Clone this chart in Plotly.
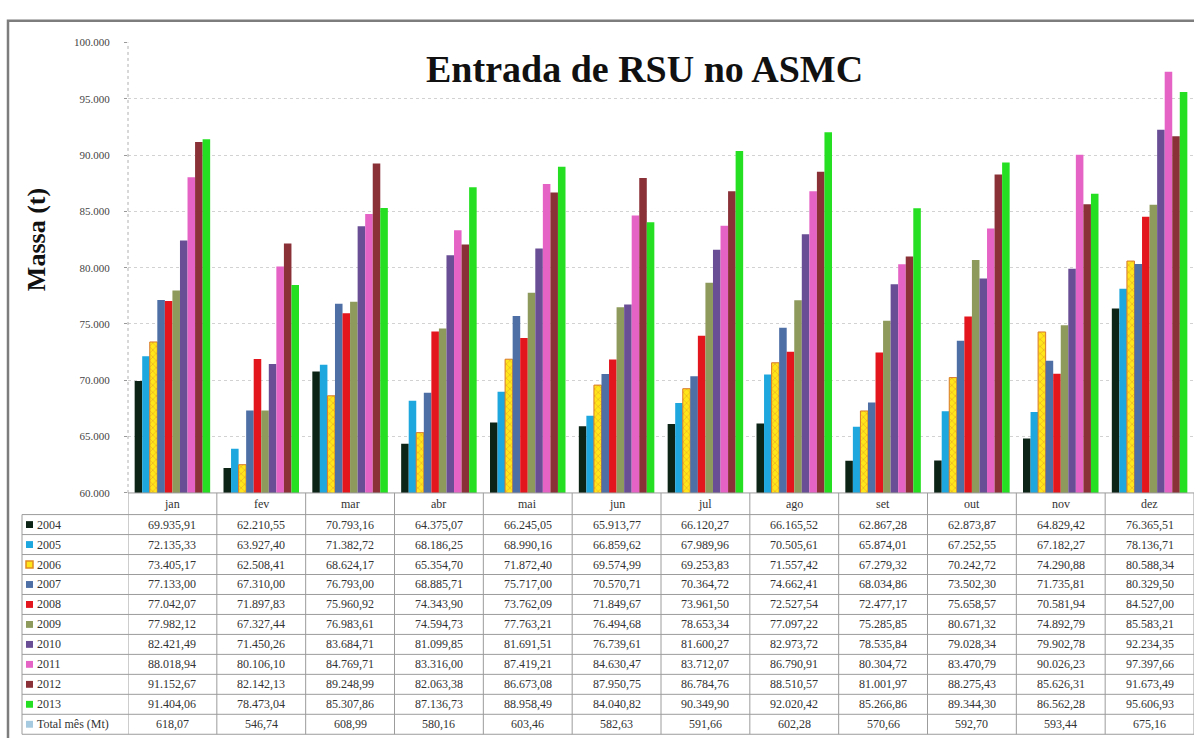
import plotly.graph_objects as go

# Monthly municipal solid waste input (t), 2004-2013
meses = ["jan", "fev", "mar", "abr", "mai", "jun", "jul", "ago", "set", "out", "nov", "dez"]
anos = ["2004", "2005", "2006", "2007", "2008", "2009", "2010", "2011", "2012", "2013"]

v2004 = [69935.91, 62210.55, 70793.16, 64375.07, 66245.05, 65913.77, 66120.27, 66165.52, 62867.28, 62873.87, 64829.42, 76365.51]
v2005 = [72135.33, 63927.40, 71382.72, 68186.25, 68990.16, 66859.62, 67989.96, 70505.61, 65874.01, 67252.55, 67182.27, 78136.71]
v2006 = [73405.17, 62508.41, 68624.17, 65354.70, 71872.40, 69574.99, 69253.83, 71557.42, 67279.32, 70242.72, 74290.88, 80588.34]
v2007 = [77133.00, 67310.00, 76793.00, 68885.71, 75717.00, 70570.71, 70364.72, 74662.41, 68034.86, 73502.30, 71735.81, 80329.50]
v2008 = [77042.07, 71897.83, 75960.92, 74343.90, 73762.09, 71849.67, 73961.50, 72527.54, 72477.17, 75658.57, 70581.94, 84527.00]
v2009 = [77982.12, 67327.44, 76983.61, 74594.73, 77763.21, 76494.68, 78653.34, 77097.22, 75285.85, 80671.32, 74892.79, 85583.21]
v2010 = [82421.49, 71450.26, 83684.71, 81099.85, 81691.51, 76739.61, 81600.27, 82973.72, 78535.84, 79028.34, 79902.78, 92234.35]
v2011 = [88018.94, 80106.10, 84769.71, 83316.00, 87419.21, 84630.47, 83712.07, 86790.91, 80304.72, 83470.79, 90026.23, 97397.66]
v2012 = [91152.67, 82142.13, 89248.99, 82063.38, 86673.08, 87950.75, 86784.76, 88510.57, 81001.97, 88275.43, 85626.31, 91673.49]
v2013 = [91404.06, 78473.04, 85307.86, 87136.73, 88958.49, 84040.82, 90349.90, 92020.42, 85266.86, 89344.30, 86562.28, 95606.93]
total_mes = [618.07, 546.74, 608.99, 580.16, 603.46, 582.63, 591.66, 602.28, 570.66, 592.70, 593.44, 675.16]
total_label = "Total mês (Mt)"

series = [v2004, v2005, v2006, v2007, v2008, v2009, v2010, v2011, v2012, v2013]
cores = ["#0c2416", "#1ea6de", "#f2a41c", "#4d6fa6", "#e3151d",
         "#8d9a5b", "#6a4e95", "#e663c6", "#8a3138", "#25e022"]
cor_total = "#a6cbe0"

W, H = 1194, 738
SERIF = "Liberation Serif"


def px(x):
    return x / W


def py(y):
    return 1 - y / H


def br(v):
    s = f"{v:,.2f}"
    return s.replace(",", "#").replace(".", ",").replace("#", ".")


fig = go.Figure()
for ano, vals, cor in zip(anos, series, cores):
    marker = dict(color=cor, line=dict(width=0))
    if ano == "2006":
        marker = dict(color="#ffe61a", line=dict(width=1, color="#d8782a"),
                      pattern=dict(shape="x", fgcolor="#d8782a", bgcolor="#ffe61a",
                                   size=5, solidity=0.25))
    fig.add_trace(go.Bar(name=ano, x=list(range(len(meses))), y=vals, marker=marker))

# plot area: 128..1194 px wide, 37..495 px tall
y_top, y_axis = 37, 495
fig.update_layout(
    width=W, height=H,
    margin=dict(l=0, r=0, t=0, b=0),
    paper_bgcolor="white", plot_bgcolor="white",
    barmode="group", bargap=0.15, bargroupgap=0,
    showlegend=False,
    separators=",.",
    xaxis=dict(domain=[px(128), 1.0], range=[-0.5, len(meses) - 0.5],
               showticklabels=False, showgrid=False, zeroline=False, fixedrange=True),
    yaxis=dict(domain=[py(y_axis), py(y_top)], range=[60000, 100000], dtick=5000,
               tickformat=",d", ticks="outside", ticklen=3, tickcolor="#9a9a9a",
               ticklabelstandoff=12,
               tickfont=dict(family=SERIF, size=11, color="#444"),
               showgrid=True, gridcolor="#d2d2d2", griddash="dot", gridwidth=1,
               showline=False, zeroline=False),
)

shapes = []
annotations = []

# dotted vertical axis line
shapes.append(dict(type="line", xref="paper", yref="paper", x0=px(128), x1=px(128),
                   y0=py(y_axis), y1=py(y_top), line=dict(color="#b0b0b0", width=1, dash="dot")))

# outer frame
shapes.append(dict(type="rect", xref="paper", yref="paper",
                   x0=px(8), x1=px(1205), y0=py(760), y1=py(15),
                   line=dict(color="#7d7d7d", width=2.5)))

# title and axis title
annotations.append(dict(text="<b>Entrada de RSU no ASMC</b>", xref="paper", yref="paper",
                        x=px(645), y=py(64), xanchor="center", yanchor="middle", showarrow=False,
                        font=dict(family=SERIF, size=38, color="#111")))
annotations.append(dict(text="<b>Massa (t)</b>", xref="paper", yref="paper",
                        x=px(36), y=py(238), xanchor="center", yanchor="middle",
                        textangle=-90, showarrow=False,
                        font=dict(family=SERIF, size=26, color="#111")))

# data table below the chart
header_top, header_bot = 495, 517
row_h = 20.3
n_rows = len(anos) + 1
table_bot = header_bot + n_rows * row_h
grid_line = dict(color="#9c9c9c", width=1)
label_left = 22

# horizontal lines
shapes.append(dict(type="line", xref="x", yref="paper", x0=-0.5, x1=len(meses) - 0.5,
                   y0=py(header_top), y1=py(header_top), line=grid_line))
for i in range(n_rows + 1):
    yy = header_bot + i * row_h
    shapes.append(dict(type="line", xref="paper", yref="paper", x0=px(label_left), x1=1,
                       y0=py(yy), y1=py(yy), line=grid_line))
# vertical lines
shapes.append(dict(type="line", xref="paper", yref="paper", x0=px(label_left), x1=px(label_left),
                   y0=py(header_bot), y1=py(table_bot), line=grid_line))
for k in range(len(meses) + 1):
    shapes.append(dict(type="line", xref="x", yref="paper", x0=k - 0.5, x1=k - 0.5,
                       y0=py(header_top), y1=py(table_bot), line=grid_line))

cell_font = dict(family=SERIF, size=12, color="#333")
for j, m in enumerate(meses):
    annotations.append(dict(text=m, xref="x", yref="paper", x=j,
                            y=py((header_top + header_bot) / 2),
                            xanchor="center", yanchor="middle", showarrow=False, font=cell_font))

row_labels = anos + [total_label]
row_values = series + [total_mes]
row_colors = cores + [cor_total]
for i, (lab, vals, cor) in enumerate(zip(row_labels, row_values, row_colors)):
    yc = header_bot + (i + 0.5) * row_h
    if lab == "2006":
        shapes.append(dict(type="rect", xref="paper", yref="paper",
                           x0=px(26), x1=px(33), y0=py(yc + 3.5), y1=py(yc - 3.5),
                           fillcolor="#ffe61a", line=dict(color="#e08a22", width=1.5)))
    else:
        shapes.append(dict(type="rect", xref="paper", yref="paper",
                           x0=px(26), x1=px(33), y0=py(yc + 3.5), y1=py(yc - 3.5),
                           fillcolor=cor, line=dict(width=0)))
    annotations.append(dict(text=lab, xref="paper", yref="paper", x=px(35), y=py(yc),
                            xanchor="left", yanchor="middle", showarrow=False, font=cell_font))
    for j, v in enumerate(vals):
        annotations.append(dict(text=br(v), xref="x", yref="paper", x=j, y=py(yc),
                                xanchor="center", yanchor="middle",
                                showarrow=False, font=cell_font))

fig.update_layout(shapes=shapes, annotations=annotations)
fig.write_html("out.html")
